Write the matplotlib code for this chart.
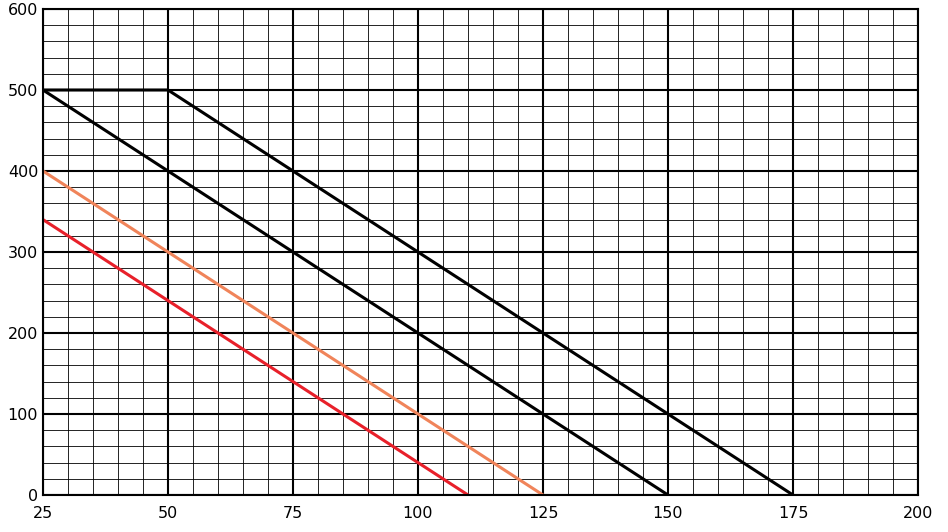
import numpy as np
import matplotlib
matplotlib.use("Agg")
import matplotlib.pyplot as plt
from matplotlib.ticker import MultipleLocator

# series (x, y)
black_a_x = [25, 50, 175]
black_a_y = [500, 500, 0]
black_b_x = [25, 150]
black_b_y = [500, 0]
orange_x = [25, 125]
orange_y = [400, 0]
red_x = [25, 110]
red_y = [340, 0]

fig = plt.figure(figsize=(9.48, 5.32), dpi=100)
ax = fig.add_axes([43 / 948, 1 - 495 / 532, (918 - 43) / 948, (495 - 9) / 532])

ax.set_xlim(25, 200)
ax.set_ylim(0, 600)
ax.xaxis.set_major_locator(MultipleLocator(25))
ax.xaxis.set_minor_locator(MultipleLocator(5))
ax.yaxis.set_major_locator(MultipleLocator(100))
ax.yaxis.set_minor_locator(MultipleLocator(20))
ax.grid(which="major", color="black", lw=1.5)
ax.grid(which="minor", color="black", lw=0.6)
ax.tick_params(which="both", length=0, labelsize=11.5)
ax.tick_params(axis="x", pad=8)
for s in ax.spines.values():
    s.set_linewidth(1.5)

ax.plot(black_a_x, black_a_y, color="black", lw=2.2)
ax.plot(black_b_x, black_b_y, color="black", lw=2.2)
ax.plot(orange_x, orange_y, color="#f0845a", lw=2.2)
ax.plot(red_x, red_y, color="#e8202a", lw=2.2)

fig.savefig("out.png", dpi=100)
